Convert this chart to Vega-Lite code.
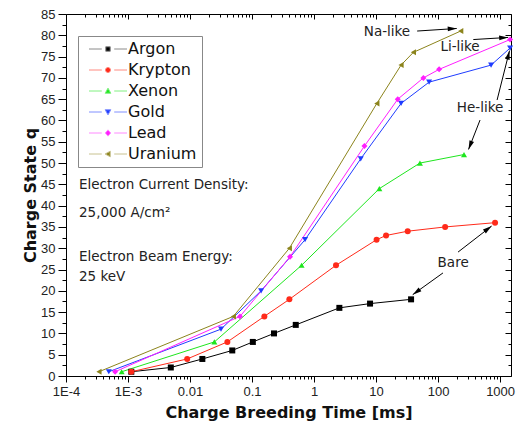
{
  "$schema": "https://vega.github.io/schema/vega-lite/v6.json",
  "width": 445,
  "height": 362,
  "autosize": {"type": "none"},
  "padding": {"left": 66, "top": 14, "right": 7, "bottom": 56},
  "config": {
    "font": "Liberation Sans",
    "view": {"stroke": null},
    "axis": {"domainColor": "#000", "tickColor": "#000", "labelColor": "#222", "grid": false, "labelFontSize": 13, "labelFlush": false, "labelOverlap": false, "titleColor": "#111", "titleFont": "DejaVu Sans"}
  },
  "datasets": {
    "series": [
      {"el": "Argon", "t": 0.00113, "q": 1}, {"el": "Argon", "t": 0.0049, "q": 2}, {"el": "Argon", "t": 0.0158, "q": 4}, {"el": "Argon", "t": 0.048, "q": 6}, {"el": "Argon", "t": 0.103, "q": 8}, {"el": "Argon", "t": 0.226, "q": 10}, {"el": "Argon", "t": 0.507, "q": 12}, {"el": "Argon", "t": 2.56, "q": 16}, {"el": "Argon", "t": 8.0, "q": 17}, {"el": "Argon", "t": 36.7, "q": 18},
      {"el": "Krypton", "t": 0.00113, "q": 1}, {"el": "Krypton", "t": 0.009, "q": 4}, {"el": "Krypton", "t": 0.04, "q": 8}, {"el": "Krypton", "t": 0.158, "q": 14}, {"el": "Krypton", "t": 0.4, "q": 18}, {"el": "Krypton", "t": 2.26, "q": 26}, {"el": "Krypton", "t": 10.2, "q": 32}, {"el": "Krypton", "t": 14.5, "q": 33}, {"el": "Krypton", "t": 32.4, "q": 34}, {"el": "Krypton", "t": 130, "q": 35}, {"el": "Krypton", "t": 830, "q": 36},
      {"el": "Xenon", "t": 0.00079, "q": 1}, {"el": "Xenon", "t": 0.0247, "q": 8}, {"el": "Xenon", "t": 0.63, "q": 26}, {"el": "Xenon", "t": 11.3, "q": 44}, {"el": "Xenon", "t": 51, "q": 50}, {"el": "Xenon", "t": 262, "q": 52},
      {"el": "Gold", "t": 0.00049, "q": 1}, {"el": "Gold", "t": 0.0316, "q": 11}, {"el": "Gold", "t": 0.14, "q": 20}, {"el": "Gold", "t": 0.716, "q": 32}, {"el": "Gold", "t": 5.66, "q": 51}, {"el": "Gold", "t": 25.3, "q": 64}, {"el": "Gold", "t": 71.6, "q": 69}, {"el": "Gold", "t": 716, "q": 73}, {"el": "Gold", "t": 1450, "q": 77},
      {"el": "Lead", "t": 0.00062, "q": 1}, {"el": "Lead", "t": 0.064, "q": 14}, {"el": "Lead", "t": 0.41, "q": 28}, {"el": "Lead", "t": 6.5, "q": 54}, {"el": "Lead", "t": 22.4, "q": 65}, {"el": "Lead", "t": 58, "q": 70}, {"el": "Lead", "t": 104, "q": 72}, {"el": "Lead", "t": 1450, "q": 79},
      {"el": "Uranium", "t": 0.00034, "q": 1}, {"el": "Uranium", "t": 0.05, "q": 14}, {"el": "Uranium", "t": 0.4, "q": 30}, {"el": "Uranium", "t": 10.3, "q": 64}, {"el": "Uranium", "t": 25.3, "q": 73}, {"el": "Uranium", "t": 40, "q": 76}, {"el": "Uranium", "t": 232, "q": 81}
    ],
    "notes": [
      {"x": 0.000162, "y": 44.8, "text": "Electron Current Density:"},
      {"x": 0.000162, "y": 38.3, "text": "25,000 A/cm²"},
      {"x": 0.000162, "y": 27.9, "text": "Electron Beam Energy:"},
      {"x": 0.000162, "y": 23.2, "text": "25 keV"}
    ],
    "labels": [
      {"x": 15, "y": 80.8, "text": "Na-like"},
      {"x": 226, "y": 77.2, "text": "Li-like"},
      {"x": 475, "y": 62.9, "text": "He-like"},
      {"x": 175, "y": 26.5, "text": "Bare"}
    ],
    "arrows": [
      {"id": "na", "x": 46, "y": 81.0, "x2": 200, "y2": 81.6},
      {"id": "li", "x": 370, "y": 79.0, "x2": 1350, "y2": 79.5},
      {"id": "he1", "x": 895, "y": 64.8, "x2": 1420, "y2": 76.4},
      {"id": "he2", "x": 475, "y": 60.1, "x2": 310, "y2": 53.2},
      {"id": "bare1", "x": 210, "y": 29.1, "x2": 730, "y2": 35.2},
      {"id": "bare2", "x": 120, "y": 24.2, "x2": 39, "y2": 19.1}
    ]
  },
  "layer": [
    {
      "data": {"name": "series"},
      "mark": {"type": "line", "strokeWidth": 1},
      "encoding": {
        "x": {"field": "t", "type": "quantitative", "scale": {"type": "log", "domain": [0.0001, 1500], "nice": false},
          "axis": {"orient": "bottom", "values": [0.0001, 0.001, 0.01, 0.1, 1, 10, 100, 1000], "labelExpr": "datum.value < 0.0005 ? '1E-4' : datum.value < 0.005 ? '1E-3' : format(datum.value, '~g')", "tickSize": 6, "labelPadding": 3, "title": "Charge Breeding Time [ms]", "titleFontSize": 16, "titleFontWeight": "bold", "titlePadding": 6}},
        "y": {"field": "q", "type": "quantitative", "scale": {"domain": [0, 85], "nice": false, "zero": false},
          "axis": {"orient": "left", "values": [0, 5, 10, 15, 20, 25, 30, 35, 40, 45, 50, 55, 60, 65, 70, 75, 80, 85], "tickSize": 8, "labelPadding": 3, "title": "Charge State q", "titleFontSize": 16, "titleFontWeight": "bold", "titlePadding": 2}},
        "color": {"field": "el", "type": "nominal", "legend": null,
          "scale": {"domain": ["Argon", "Krypton", "Xenon", "Gold", "Lead", "Uranium"], "range": ["#000000", "#ff2a1a", "#1ee61e", "#1f3cff", "#ff1eff", "#8c841c"]}},
        "detail": {"field": "el"}
      }
    },
    {
      "data": {"name": "series"},
      "mark": {"type": "point", "filled": true, "size": 36, "opacity": 1},
      "encoding": {
        "x": {"field": "t", "type": "quantitative", "scale": {"type": "log", "domain": [0.0001, 1500], "nice": false},
          "axis": {"orient": "bottom", "values": [0.0002, 0.0003, 0.0004, 0.0005, 0.0006, 0.0007, 0.0008, 0.0009, 0.002, 0.003, 0.004, 0.005, 0.006, 0.007, 0.008, 0.009, 0.02, 0.03, 0.04, 0.05, 0.06, 0.07, 0.08, 0.09, 0.2, 0.3, 0.4, 0.5, 0.6, 0.7, 0.8, 0.9, 2, 3, 4, 5, 6, 7, 8, 9, 20, 30, 40, 50, 60, 70, 80, 90, 200, 300, 400, 500, 600, 700, 800, 900], "labels": false, "tickSize": 3, "domain": false, "title": null}},
        "y": {"field": "q", "type": "quantitative", "scale": {"domain": [0, 85], "nice": false, "zero": false},
          "axis": {"orient": "left", "values": [2.5, 7.5, 12.5, 17.5, 22.5, 27.5, 32.5, 37.5, 42.5, 47.5, 52.5, 57.5, 62.5, 67.5, 72.5, 77.5, 82.5], "labels": false, "tickSize": 4, "domain": false, "title": null}},
        "color": {"field": "el", "type": "nominal", "legend": null,
          "scale": {"domain": ["Argon", "Krypton", "Xenon", "Gold", "Lead", "Uranium"], "range": ["#000000", "#ff2a1a", "#1ee61e", "#1f3cff", "#ff1eff", "#8c841c"]}},
        "shape": {"field": "el", "type": "nominal", "legend": null,
          "scale": {"domain": ["Argon", "Krypton", "Xenon", "Gold", "Lead", "Uranium"], "range": ["square", "circle", "triangle-up", "triangle-down", "diamond", "triangle-left"]}}
      }
    },
    {
      "data": {"name": "series"},
      "mark": {"type": "point", "size": 0, "opacity": 1, "strokeWidth": 1},
      "encoding": {
        "x": {"field": "t", "type": "quantitative", "scale": {"type": "log", "domain": [0.0001, 1500], "nice": false}, "axis": null},
        "y": {"field": "q", "type": "quantitative", "scale": {"domain": [0, 85], "nice": false, "zero": false}, "axis": null},
        "fill": {"field": "el", "type": "nominal",
          "scale": {"domain": ["Argon", "Krypton", "Xenon", "Gold", "Lead", "Uranium"], "range": ["#000000", "#ff2a1a", "#1ee61e", "#1f3cff", "#ff1eff", "#8c841c"]},
          "legend": {"title": null, "orient": "none", "legendX": 12, "legendY": 22, "labelFont": "DejaVu Sans", "labelFontSize": 16, "labelColor": "#111", "symbolSize": 36, "symbolStrokeWidth": 1, "strokeColor": "#888", "padding": 5, "rowPadding": 5, "symbolOffset": 17, "labelOffset": 12}},
        "stroke": {"field": "el", "type": "nominal",
          "scale": {"domain": ["Argon", "Krypton", "Xenon", "Gold", "Lead", "Uranium"], "range": ["#8a8a8a", "#ff8a80", "#80f080", "#8090ff", "#ff8aff", "#c8c290"]},
          "legend": {"title": null, "orient": "none", "legendX": 12, "legendY": 22, "labelFont": "DejaVu Sans", "labelFontSize": 16, "labelColor": "#111", "symbolSize": 36, "symbolStrokeWidth": 1, "strokeColor": "#888", "padding": 5, "rowPadding": 5, "symbolOffset": 17, "labelOffset": 12}},
        "shape": {"field": "el", "type": "nominal",
          "scale": {"domain": ["Argon", "Krypton", "Xenon", "Gold", "Lead", "Uranium"], "range": [
            "M-6.33,0H-2.07M2.07,0H6.33M-0.75,-0.75H0.75V0.75H-0.75Z",
            "M-6.33,0H-2.07M2.07,0H6.33M-0.85,0A0.85,0.85,0,1,0,0.85,0A0.85,0.85,0,1,0,-0.85,0Z",
            "M-6.33,0H-2.07M2.07,0H6.33M0,-0.95L0.95,0.75H-0.95Z",
            "M-6.33,0H-2.07M2.07,0H6.33M0,0.95L0.95,-0.75H-0.95Z",
            "M-6.33,0H-2.07M2.07,0H6.33M0,-1.05L0.9,0L0,1.05L-0.9,0Z",
            "M-6.33,0H-2.07M2.07,0H6.33M-0.95,0L0.75,-0.95V0.95Z"]},
          "legend": {"title": null, "orient": "none", "legendX": 12, "legendY": 22, "labelFont": "DejaVu Sans", "labelFontSize": 16, "labelColor": "#111", "symbolSize": 36, "symbolStrokeWidth": 1, "strokeColor": "#888", "padding": 5, "rowPadding": 5, "symbolOffset": 17, "labelOffset": 12}}
      }
    },
    {
      "data": {"name": "notes"},
      "mark": {"type": "text", "align": "left", "font": "DejaVu Sans", "fontSize": 13.5, "color": "#222"},
      "encoding": {
        "x": {"field": "x", "type": "quantitative", "scale": {"type": "log", "domain": [0.0001, 1500], "nice": false},
          "axis": {"orient": "top", "values": [0.0001, 0.001, 0.01, 0.1, 1, 10, 100, 1000], "labels": false, "tickSize": -5, "title": null}},
        "y": {"field": "y", "type": "quantitative", "scale": {"domain": [0, 85], "nice": false, "zero": false},
          "axis": {"orient": "right", "values": [0, 5, 10, 15, 20, 25, 30, 35, 40, 45, 50, 55, 60, 65, 70, 75, 80, 85], "labels": false, "tickSize": -6, "title": null}},
        "text": {"field": "text"}
      }
    },
    {
      "data": {"name": "labels"},
      "mark": {"type": "text", "align": "center", "font": "DejaVu Sans", "fontSize": 13.5, "color": "#222"},
      "encoding": {
        "x": {"field": "x", "type": "quantitative", "scale": {"type": "log", "domain": [0.0001, 1500], "nice": false},
          "axis": {"orient": "top", "values": [0.0002, 0.0003, 0.0004, 0.0005, 0.0006, 0.0007, 0.0008, 0.0009, 0.002, 0.003, 0.004, 0.005, 0.006, 0.007, 0.008, 0.009, 0.02, 0.03, 0.04, 0.05, 0.06, 0.07, 0.08, 0.09, 0.2, 0.3, 0.4, 0.5, 0.6, 0.7, 0.8, 0.9, 2, 3, 4, 5, 6, 7, 8, 9, 20, 30, 40, 50, 60, 70, 80, 90, 200, 300, 400, 500, 600, 700, 800, 900], "labels": false, "tickSize": -3, "domain": false, "title": null}},
        "y": {"field": "y", "type": "quantitative", "scale": {"domain": [0, 85], "nice": false, "zero": false},
          "axis": {"orient": "right", "values": [2.5, 7.5, 12.5, 17.5, 22.5, 27.5, 32.5, 37.5, 42.5, 47.5, 52.5, 57.5, 62.5, 67.5, 72.5, 77.5, 82.5], "labels": false, "tickSize": -3, "domain": false, "title": null}},
        "text": {"field": "text"}
      }
    },
    {
      "data": {"name": "arrows"},
      "mark": {"type": "rule", "strokeWidth": 1, "color": "#000"},
      "encoding": {
        "x": {"field": "x", "type": "quantitative", "scale": {"type": "log", "domain": [0.0001, 1500], "nice": false}, "axis": null},
        "x2": {"field": "x2"},
        "y": {"field": "y", "type": "quantitative", "scale": {"domain": [0, 85], "nice": false, "zero": false}, "axis": null},
        "y2": {"field": "y2"}
      }
    },
    {
      "data": {"name": "arrows"},
      "mark": {"type": "point", "shape": "M0,0L0.8,3L-0.8,3Z", "filled": true, "size": 36, "color": "#000", "opacity": 1},
      "encoding": {
        "x": {"field": "x2", "type": "quantitative", "scale": {"type": "log", "domain": [0.0001, 1500], "nice": false}, "axis": null},
        "y": {"field": "y2", "type": "quantitative", "scale": {"domain": [0, 85], "nice": false, "zero": false}, "axis": null},
        "angle": {"field": "id", "type": "ordinal", "legend": null,
          "scale": {"type": "ordinal", "domain": ["na", "li", "he1", "he2", "bare1", "bare2"], "range": [87, 87, 14, 201, 53, 234]}}
      }
    }
  ],
  "resolve": {
    "axis": {"x": "independent", "y": "independent"},
    "scale": {"shape": "independent"},
    "legend": {"color": "independent", "shape": "independent", "fill": "independent", "stroke": "independent"}
  }
}
